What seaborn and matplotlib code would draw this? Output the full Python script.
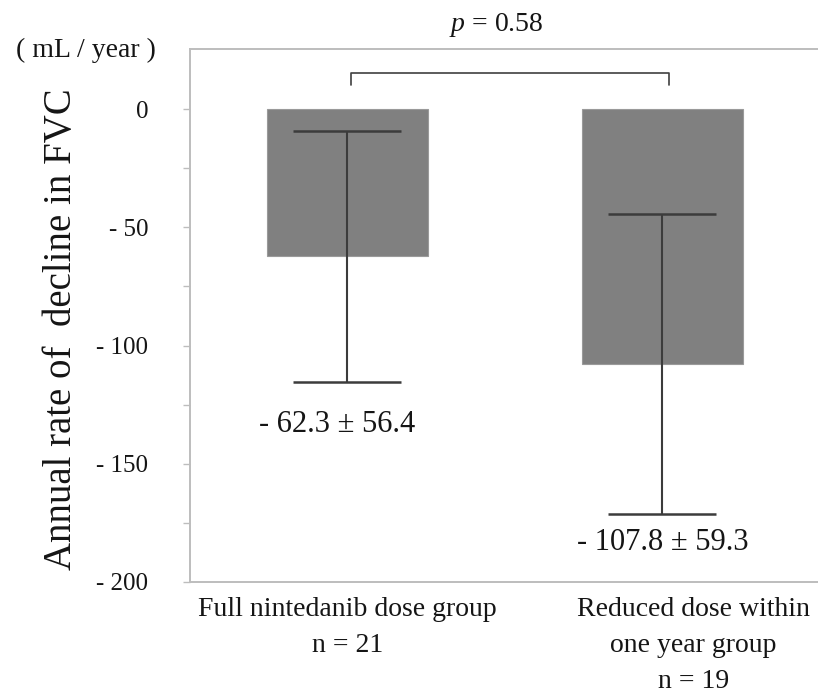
import matplotlib
matplotlib.use("Agg")
import matplotlib.pyplot as plt
import matplotlib.transforms as mtransforms
import numpy as np
import pandas as pd
import seaborn as sns

# values
groups = ["Full nintedanib dose group\nn = 21", "Reduced dose within\none year group\nn = 19"]
means = [-62.3, -107.8]
err_drawn = [53.0, 63.5]
value_labels = ["- 62.3 \u00b1 56.4", "- 107.8 \u00b1 59.3"]
value_label_y = [-133.6, -183.5]
yticks = [-200, -150, -100, -50, 0]
ytick_labels = ["- 200", "- 150", "- 100", "- 50", "0"]
p_text = "$p$ = 0.58"

sns.set_style("white")
plt.rcParams["font.family"] = ["Liberation Serif", "DejaVu Serif"]
plt.rcParams["mathtext.fontset"] = "custom"
plt.rcParams["mathtext.rm"] = "Liberation Serif"
plt.rcParams["mathtext.it"] = "Liberation Serif:italic"
plt.rcParams["text.color"] = "#151515"
plt.rcParams["ytick.labelcolor"] = "#151515"
plt.rcParams["xtick.labelcolor"] = "#151515"

df = pd.DataFrame({"group": groups, "mean": means, "err": err_drawn})

fig = plt.figure(figsize=(8.18, 6.98), dpi=100)
ax = fig.add_axes([190 / 818, 1 - 582 / 698, 1 - 190 / 818, (582 - 49) / 698])

sns.barplot(data=df, x="group", y="mean", color="#808080", saturation=1,
            width=0.511, errorbar=None, edgecolor="#9a9a9a", linewidth=0.8, ax=ax)
ax.errorbar(np.arange(len(df)), df["mean"], yerr=df["err"], fmt="none",
            ecolor="#3c3c3c", elinewidth=1.5, capsize=39, capthick=1.8)

ax.set_xlim(-0.5, 1.494)
ax.set_ylim(-200, 25.4)

# axes frame
for side in ["left", "bottom", "top"]:
    ax.spines[side].set_color("#bdbdbd")
    ax.spines[side].set_linewidth(1.4)
ax.spines["right"].set_visible(False)

ax.set_yticks(yticks)
ax.set_yticklabels(ytick_labels)
ax.set_yticks(np.arange(-175, 25, 50), minor=True)
ax.tick_params(axis="y", which="both", length=5, width=1, color="#bdbdbd",
               direction="out", left=True, labelsize=18, pad=25)
ax.tick_params(axis="x", length=0, labelsize=20, pad=11)
ax.set_xticks(range(len(groups)))
ax.set_xticklabels(groups, linespacing=1.58)
lbl = ax.get_xticklabels()[1]
lbl.set_transform(lbl.get_transform() + mtransforms.ScaledTranslation(0.31, 0, fig.dpi_scale_trans))
ax.set_xlabel("")
ax.set_ylabel("")

for i, (txt, yy) in enumerate(zip(value_labels, value_label_y)):
    ax.text(i - (0.033 if i == 0 else 0), yy, txt, ha="center", va="center", fontsize=22)

# significance bracket
ax.plot([0.01, 0.01, 1.02, 1.02], [10, 15.2, 15.2, 10], color="#404040", lw=1.2, clip_on=False)
ax.text(0.471, 35.5, p_text, ha="center", va="center", fontsize=20)

fig.text(86 / 818, 1 - 50 / 698, "( mL / year )", ha="center", va="center", fontsize=20)
fig.text(62 / 818, 1 - 329 / 698, "Annual rate of  decline in FVC", rotation=90,
         ha="center", va="center", fontsize=28)

fig.savefig("out.png", dpi=100)
